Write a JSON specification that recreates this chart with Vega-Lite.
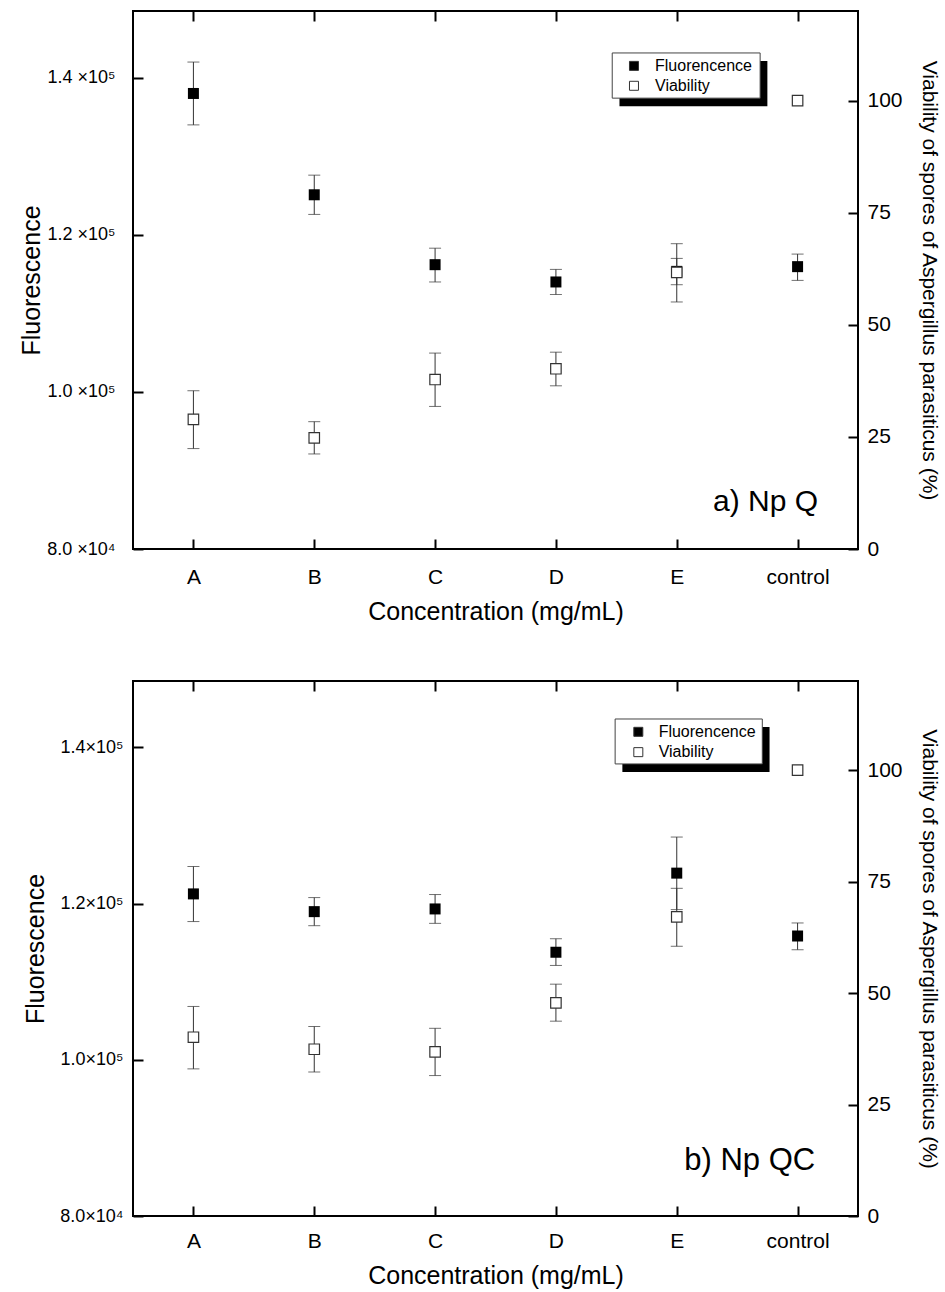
{
  "$schema": "https://vega.github.io/schema/vega-lite/v6.json",
  "background": "white",
  "padding": {"left": 18, "top": 9, "right": 5, "bottom": 5},
  "spacing": 54,
  "align": "none",
  "config": {
    "font": "Liberation Sans",
    "view": {"stroke": "black", "strokeWidth": 2},
    "axis": {"grid": false, "domain": false, "tickColor": "black", "tickWidth": 2, "labelColor": "black", "titleColor": "black", "titleFontWeight": "normal"}
  },
  "datasets": {
    "main": [
      {"panel": "a", "conc": "A", "fl": 138000, "flLo": 134000, "flHi": 142000, "via": 28.9, "viaLo": 22.4, "viaHi": 35.3},
      {"panel": "a", "conc": "B", "fl": 125100, "flLo": 122600, "flHi": 127600, "via": 24.8, "viaLo": 21.2, "viaHi": 28.4},
      {"panel": "a", "conc": "C", "fl": 116200, "flLo": 114000, "flHi": 118300, "via": 37.8, "viaLo": 31.8, "viaHi": 43.7},
      {"panel": "a", "conc": "D", "fl": 114000, "flLo": 112400, "flHi": 115600, "via": 40.2, "viaLo": 36.4, "viaHi": 43.9},
      {"panel": "a", "conc": "E", "fl": 115350, "flLo": 113650, "flHi": 117000, "via": 61.7, "viaLo": 55.1, "viaHi": 68.1},
      {"panel": "a", "conc": "control", "fl": 115950, "flLo": 114200, "flHi": 117550, "via": 100, "viaLo": null, "viaHi": null},
      {"panel": "b", "conc": "A", "fl": 121240, "flLo": 117700, "flHi": 124750, "via": 40.1, "viaLo": 33.0, "viaHi": 47.0},
      {"panel": "b", "conc": "B", "fl": 118970, "flLo": 117170, "flHi": 120770, "via": 37.4, "viaLo": 32.3, "viaHi": 42.5},
      {"panel": "b", "conc": "C", "fl": 119315, "flLo": 117470, "flHi": 121160, "via": 36.8, "viaLo": 31.5, "viaHi": 42.1},
      {"panel": "b", "conc": "D", "fl": 113770, "flLo": 112080, "flHi": 115500, "via": 47.8, "viaLo": 43.7, "viaHi": 52.0},
      {"panel": "b", "conc": "E", "fl": 123900, "flLo": 119230, "flHi": 128520, "via": 67.1, "viaLo": 60.5, "viaHi": 73.5},
      {"panel": "b", "conc": "control", "fl": 115850, "flLo": 114090, "flHi": 117520, "via": 100, "viaLo": null, "viaHi": null}
    ],
    "box": [
      {"panel": "a", "x1": 0.661, "x2": 0.865, "y1": 0.838, "y2": 0.922, "sx1": 0.671, "sx2": 0.875, "sy1": 0.823, "sy2": 0.907},
      {"panel": "b", "x1": 0.665, "x2": 0.868, "y1": 0.845, "y2": 0.929, "sx1": 0.675, "sx2": 0.878, "sy1": 0.830, "sy2": 0.914}
    ],
    "items": [
      {"panel": "a", "series": "Fluorencence", "sxp": 0.691, "tx": 0.72, "ly": 0.898},
      {"panel": "a", "series": "Viability", "sxp": 0.691, "tx": 0.72, "ly": 0.861},
      {"panel": "b", "series": "Fluorencence", "sxp": 0.697, "tx": 0.725, "ly": 0.905},
      {"panel": "b", "series": "Viability", "sxp": 0.697, "tx": 0.725, "ly": 0.867}
    ],
    "tags": [
      {"panel": "a", "tag": "a) Np Q", "tx": 0.945, "ty": 0.07},
      {"panel": "b", "tag": "b) Np QC", "tx": 0.941, "ty": 0.086}
    ]
  },
  "vconcat": [
    {
      "width": 725,
      "height": 538,
      "resolve": {"scale": {"x": "independent", "y": "independent"}, "axis": {"x": "independent", "y": "independent"}},
      "layer": [
        {
          "data": {"name": "main"},
          "transform": [{"filter": "datum.panel == 'a'"}],
          "encoding": {
            "x": {"field": "conc", "type": "ordinal", "sort": null, "scale": {"type": "point", "domain": ["A", "B", "C", "D", "E", "control"], "padding": 0.5},
              "axis": {"orient": "bottom", "title": "Concentration (mg/mL)", "labelFontSize": 21, "labelAngle": 0, "tickSize": -10, "labelPadding": 27, "titleFontSize": 25, "titlePadding": 12}}
          },
          "layer": [
            {"mark": {"type": "rule", "color": "#333", "strokeWidth": 1},
             "encoding": {"y": {"field": "flLo", "type": "quantitative", "title": "Fluorescence", "scale": {"domain": [80000, 148500], "zero": false, "nice": false},
               "axis": {"orient": "left", "values": [80000, 100000, 120000, 140000], "labelExpr": "datum.value >= 100000 ? format(datum.value/100000, '.1f') + ' ×10⁵' : format(datum.value/10000, '.1f') + ' ×10⁴'", "labelFontSize": 18, "tickSize": -10, "labelPadding": 28, "titleFontSize": 25, "titlePadding": 2}},
               "y2": {"field": "flHi"}}},
            {"mark": {"type": "tick", "orient": "horizontal", "size": 12, "thickness": 1, "color": "#333"},
             "encoding": {"y": {"field": "flLo", "type": "quantitative", "title": "Fluorescence"}}},
            {"mark": {"type": "tick", "orient": "horizontal", "size": 12, "thickness": 1, "color": "#333"},
             "encoding": {"y": {"field": "flHi", "type": "quantitative", "title": "Fluorescence"}}},
            {"mark": {"type": "point", "shape": "square", "filled": true, "size": 121, "color": "black", "opacity": 1},
             "encoding": {"y": {"field": "fl", "type": "quantitative", "title": "Fluorescence"}}}
          ]
        },
        {
          "data": {"name": "main"},
          "transform": [{"filter": "datum.panel == 'a'"}],
          "encoding": {
            "x": {"field": "conc", "type": "ordinal", "sort": null, "scale": {"type": "point", "domain": ["A", "B", "C", "D", "E", "control"], "padding": 0.5},
              "axis": {"orient": "top", "labels": false, "title": null, "tickSize": -10, "minExtent": 0}}
          },
          "layer": [
            {"transform": [{"filter": "datum.viaLo != null"}],
             "layer": [
               {"mark": {"type": "rule", "color": "#333", "strokeWidth": 1},
                "encoding": {"y": {"field": "viaLo", "type": "quantitative", "title": "Viability of spores of Aspergillus parasiticus (%)", "scale": {"domain": [0, 120], "nice": false},
                  "axis": {"orient": "right", "values": [0, 25, 50, 75, 100], "labelFontSize": 21, "tickSize": -10, "labelPadding": 19, "titleFontSize": 21, "titlePadding": 16, "titleAngle": 90}},
                  "y2": {"field": "viaHi"}}},
               {"mark": {"type": "tick", "orient": "horizontal", "size": 12, "thickness": 1, "color": "#333"},
                "encoding": {"y": {"field": "viaLo", "type": "quantitative", "title": "Viability of spores of Aspergillus parasiticus (%)"}}},
               {"mark": {"type": "tick", "orient": "horizontal", "size": 12, "thickness": 1, "color": "#333"},
                "encoding": {"y": {"field": "viaHi", "type": "quantitative", "title": "Viability of spores of Aspergillus parasiticus (%)"}}}
             ]},
            {"mark": {"type": "point", "shape": "square", "filled": true, "fill": "white", "stroke": "#333", "strokeWidth": 1.2, "size": 110, "opacity": 1},
             "encoding": {"y": {"field": "via", "type": "quantitative", "title": "Viability of spores of Aspergillus parasiticus (%)"}}}
          ]
        },
        {
          "encoding": {
            "x": {"type": "quantitative", "scale": {"domain": [0, 1], "nice": false, "zero": false}, "axis": null},
            "y": {"type": "quantitative", "scale": {"domain": [0, 1], "nice": false, "zero": false}, "axis": null}
          },
          "layer": [
            {"data": {"name": "box"}, "transform": [{"filter": "datum.panel == 'a'"}],
             "mark": {"type": "rect", "color": "black"},
             "encoding": {"x": {"field": "sx1", "type": "quantitative"}, "x2": {"field": "sx2"}, "y": {"field": "sy1", "type": "quantitative"}, "y2": {"field": "sy2"}}},
            {"data": {"name": "box"}, "transform": [{"filter": "datum.panel == 'a'"}],
             "mark": {"type": "rect", "fill": "white", "stroke": "#444", "strokeWidth": 1},
             "encoding": {"x": {"field": "x1", "type": "quantitative"}, "x2": {"field": "x2"}, "y": {"field": "y1", "type": "quantitative"}, "y2": {"field": "y2"}}},
            {"data": {"name": "items"}, "transform": [{"filter": "datum.panel == 'a'"}],
             "mark": {"type": "point", "shape": "square", "filled": true, "size": 81, "stroke": "#333", "strokeWidth": 1, "opacity": 1},
             "encoding": {"x": {"field": "sxp", "type": "quantitative"}, "y": {"field": "ly", "type": "quantitative"},
               "fill": {"field": "series", "type": "nominal", "scale": {"domain": ["Fluorencence", "Viability"], "range": ["black", "white"]}, "legend": null}}},
            {"data": {"name": "items"}, "transform": [{"filter": "datum.panel == 'a'"}],
             "mark": {"type": "text", "align": "left", "baseline": "middle", "fontSize": 16, "color": "black"},
             "encoding": {"x": {"field": "tx", "type": "quantitative"}, "y": {"field": "ly", "type": "quantitative"}, "text": {"field": "series"}}},
            {"data": {"name": "tags"}, "transform": [{"filter": "datum.panel == 'a'"}],
             "mark": {"type": "text", "align": "right", "baseline": "alphabetic", "fontSize": 30, "color": "black"},
             "encoding": {"x": {"field": "tx", "type": "quantitative"}, "y": {"field": "ty", "type": "quantitative"}, "text": {"field": "tag"}}}
          ]
        }
      ]
    },
    {
      "width": 725,
      "height": 535,
      "resolve": {"scale": {"x": "independent", "y": "independent"}, "axis": {"x": "independent", "y": "independent"}},
      "layer": [
        {
          "data": {"name": "main"},
          "transform": [{"filter": "datum.panel == 'b'"}],
          "encoding": {
            "x": {"field": "conc", "type": "ordinal", "sort": null, "scale": {"type": "point", "domain": ["A", "B", "C", "D", "E", "control"], "padding": 0.5},
              "axis": {"orient": "bottom", "title": "Concentration (mg/mL)", "labelFontSize": 21, "labelAngle": 0, "tickSize": -10, "labelPadding": 24, "titleFontSize": 25, "titlePadding": 12}}
          },
          "layer": [
            {"mark": {"type": "rule", "color": "#333", "strokeWidth": 1},
             "encoding": {"y": {"field": "flLo", "type": "quantitative", "title": "Fluorescence", "scale": {"domain": [80000, 148500], "zero": false, "nice": false},
               "axis": {"orient": "left", "values": [80000, 100000, 120000, 140000], "labelExpr": "datum.value >= 100000 ? format(datum.value/100000, '.1f') + '×10⁵' : format(datum.value/10000, '.1f') + '×10⁴'", "labelFontSize": 18, "tickSize": -10, "labelPadding": 20, "titleFontSize": 25, "titlePadding": 11}},
               "y2": {"field": "flHi"}}},
            {"mark": {"type": "tick", "orient": "horizontal", "size": 12, "thickness": 1, "color": "#333"},
             "encoding": {"y": {"field": "flLo", "type": "quantitative", "title": "Fluorescence"}}},
            {"mark": {"type": "tick", "orient": "horizontal", "size": 12, "thickness": 1, "color": "#333"},
             "encoding": {"y": {"field": "flHi", "type": "quantitative", "title": "Fluorescence"}}},
            {"mark": {"type": "point", "shape": "square", "filled": true, "size": 121, "color": "black", "opacity": 1},
             "encoding": {"y": {"field": "fl", "type": "quantitative", "title": "Fluorescence"}}}
          ]
        },
        {
          "data": {"name": "main"},
          "transform": [{"filter": "datum.panel == 'b'"}],
          "encoding": {
            "x": {"field": "conc", "type": "ordinal", "sort": null, "scale": {"type": "point", "domain": ["A", "B", "C", "D", "E", "control"], "padding": 0.5},
              "axis": {"orient": "top", "labels": false, "title": null, "tickSize": -10, "minExtent": 0}}
          },
          "layer": [
            {"transform": [{"filter": "datum.viaLo != null"}],
             "layer": [
               {"mark": {"type": "rule", "color": "#333", "strokeWidth": 1},
                "encoding": {"y": {"field": "viaLo", "type": "quantitative", "title": "Viability of spores of Aspergillus parasiticus (%)", "scale": {"domain": [0, 120], "nice": false},
                  "axis": {"orient": "right", "values": [0, 25, 50, 75, 100], "labelFontSize": 21, "tickSize": -10, "labelPadding": 19, "titleFontSize": 21, "titlePadding": 16, "titleAngle": 90}},
                  "y2": {"field": "viaHi"}}},
               {"mark": {"type": "tick", "orient": "horizontal", "size": 12, "thickness": 1, "color": "#333"},
                "encoding": {"y": {"field": "viaLo", "type": "quantitative", "title": "Viability of spores of Aspergillus parasiticus (%)"}}},
               {"mark": {"type": "tick", "orient": "horizontal", "size": 12, "thickness": 1, "color": "#333"},
                "encoding": {"y": {"field": "viaHi", "type": "quantitative", "title": "Viability of spores of Aspergillus parasiticus (%)"}}}
             ]},
            {"mark": {"type": "point", "shape": "square", "filled": true, "fill": "white", "stroke": "#333", "strokeWidth": 1.2, "size": 110, "opacity": 1},
             "encoding": {"y": {"field": "via", "type": "quantitative", "title": "Viability of spores of Aspergillus parasiticus (%)"}}}
          ]
        },
        {
          "encoding": {
            "x": {"type": "quantitative", "scale": {"domain": [0, 1], "nice": false, "zero": false}, "axis": null},
            "y": {"type": "quantitative", "scale": {"domain": [0, 1], "nice": false, "zero": false}, "axis": null}
          },
          "layer": [
            {"data": {"name": "box"}, "transform": [{"filter": "datum.panel == 'b'"}],
             "mark": {"type": "rect", "color": "black"},
             "encoding": {"x": {"field": "sx1", "type": "quantitative"}, "x2": {"field": "sx2"}, "y": {"field": "sy1", "type": "quantitative"}, "y2": {"field": "sy2"}}},
            {"data": {"name": "box"}, "transform": [{"filter": "datum.panel == 'b'"}],
             "mark": {"type": "rect", "fill": "white", "stroke": "#444", "strokeWidth": 1},
             "encoding": {"x": {"field": "x1", "type": "quantitative"}, "x2": {"field": "x2"}, "y": {"field": "y1", "type": "quantitative"}, "y2": {"field": "y2"}}},
            {"data": {"name": "items"}, "transform": [{"filter": "datum.panel == 'b'"}],
             "mark": {"type": "point", "shape": "square", "filled": true, "size": 81, "stroke": "#333", "strokeWidth": 1, "opacity": 1},
             "encoding": {"x": {"field": "sxp", "type": "quantitative"}, "y": {"field": "ly", "type": "quantitative"},
               "fill": {"field": "series", "type": "nominal", "scale": {"domain": ["Fluorencence", "Viability"], "range": ["black", "white"]}, "legend": null}}},
            {"data": {"name": "items"}, "transform": [{"filter": "datum.panel == 'b'"}],
             "mark": {"type": "text", "align": "left", "baseline": "middle", "fontSize": 16, "color": "black"},
             "encoding": {"x": {"field": "tx", "type": "quantitative"}, "y": {"field": "ly", "type": "quantitative"}, "text": {"field": "series"}}},
            {"data": {"name": "tags"}, "transform": [{"filter": "datum.panel == 'b'"}],
             "mark": {"type": "text", "align": "right", "baseline": "alphabetic", "fontSize": 31, "color": "black"},
             "encoding": {"x": {"field": "tx", "type": "quantitative"}, "y": {"field": "ty", "type": "quantitative"}, "text": {"field": "tag"}}}
          ]
        }
      ]
    }
  ]
}
